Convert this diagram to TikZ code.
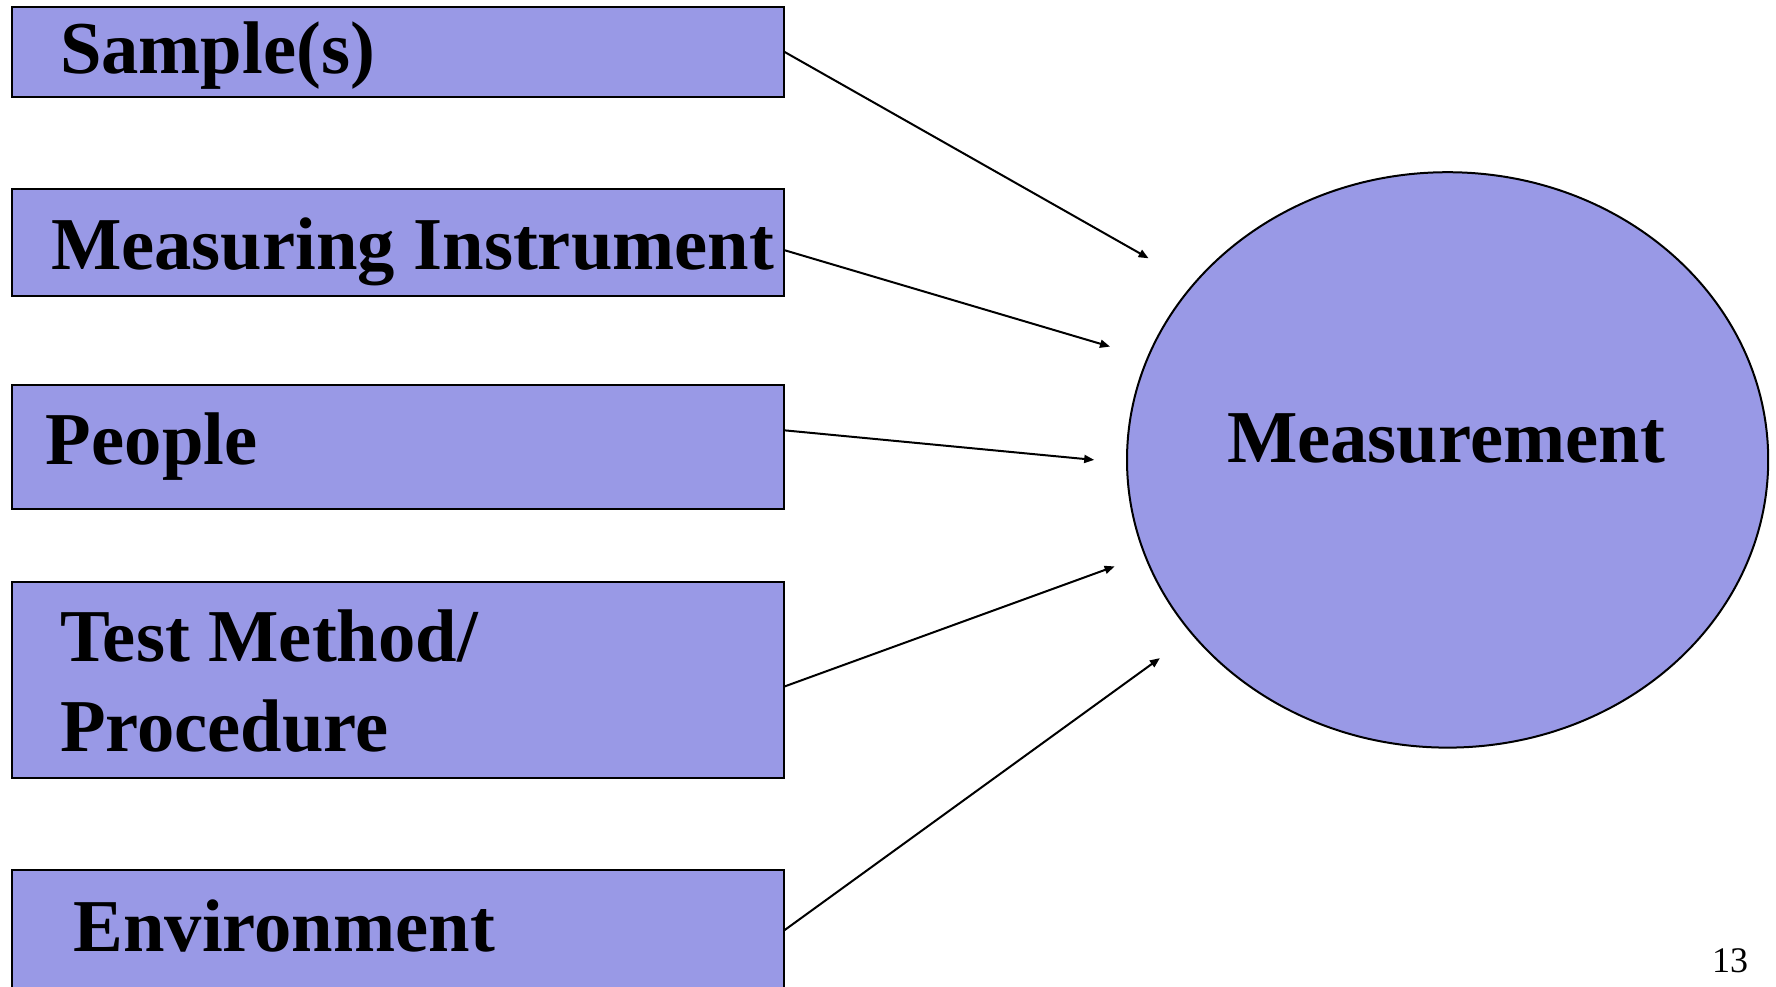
\documentclass[tikz,border=0pt]{standalone}
\usepackage{fontspec}
\setmainfont{Liberation Serif}
\usetikzlibrary{shapes.geometric,arrows.meta}
\definecolor{boxfill}{RGB}{153,153,230}
\tikzset{
  box/.style={draw, fill=boxfill, anchor=north west, minimum width=385.7pt, inner sep=0pt},
  lbl/.style={font=\fontsize{37.3}{44.75}\selectfont\bfseries, inner sep=0pt, anchor=base west, align=left},
}
\begin{document}
\begin{tikzpicture}[x=0.5pt,y=-0.5pt,>={Triangle[length=5pt,width=4pt]},line width=1pt]
\useasboundingbox (0,0) rectangle (1776,986);
% the five boxes on the left
\node[box,minimum height=45.3pt] (sample) at (11.3,5.7) {};
\node[box,minimum height=53.25pt] (instr) at (11.3,188) {};
\node[box,minimum height=61.75pt] (people) at (11.3,384) {};
\node[box,minimum height=98pt] (method) at (11.3,581) {};
\node[box,minimum height=70pt] (envir) at (11.3,869) {};
\node[lbl] (sampletxt) at (59,73.6) {Sample(s)};
\node[lbl] (instrtxt) at (50,269.6) {Measuring Instrument};
\node[lbl] (peopletxt) at (45,464) {People};
\node[lbl] (methodtxt) at (59,751) {Test Method/\\Procedure}; % base = last line
\node[lbl] (envirtxt) at (72.5,951) {Environment};
% the ellipse on the right
\node[draw, fill=boxfill, ellipse, minimum width=320.6pt, minimum height=287.7pt, inner sep=0pt] (meas) at (1447.6,459.9) {};
\node[lbl, anchor=base] (meastxt) at (1446,462) {Measurement};
% arrow tips
\coordinate (tipa) at (1148.6,258.3);
\coordinate (tipb) at (1110,346.6);
\coordinate (tipc) at (1094.2,459.9);
\coordinate (tipd) at (1114.6,566.4);
\coordinate (tipe) at (1159.9,658.1);
\draw[->] (sample.east) -- (tipa);
\draw[->] ([yshift=-4pt]instr.east) -- (tipb);
\draw[->] ([yshift=8.2pt]people.east) -- (tipc);
\draw[->] ([yshift=-3.2pt]method.east) -- (tipd);
\draw[->] ([yshift=5pt]envir.east) -- (tipe);
% page number
\node[font=\fontsize{18}{20}\selectfont, anchor=base west, inner sep=0pt] (pageno) at (1711,972) {13};
\end{tikzpicture}
\end{document}
